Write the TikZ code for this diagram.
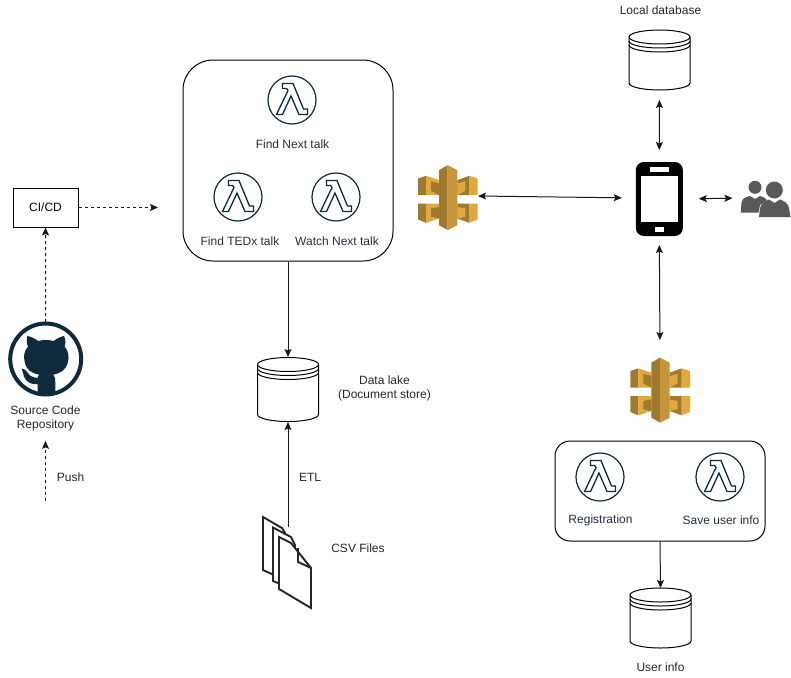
\documentclass[tikz,border=0pt]{standalone}
\usepackage{fontspec}
\setmainfont{Liberation Sans}
\usetikzlibrary{arrows.meta}
\definecolor{inkdark}{HTML}{0F2A3C}
\definecolor{lamtext}{HTML}{232F3E}
\definecolor{goldL}{HTML}{E0A83F}
\definecolor{goldM}{HTML}{C8963A}
\definecolor{goldD}{HTML}{9F7A2E}
\definecolor{usergray}{HTML}{595959}
\tikzset{
  x=1pt,y=-1pt,
  lbl/.style={font=\fontsize{12}{14}\selectfont,text=black!85,align=center,inner sep=0pt},
  lamlbl/.style={font=\fontsize{12}{14}\selectfont,text=lamtext,align=center,inner sep=0pt},
  iconbox/.style={inner sep=0pt,outer sep=0pt,minimum width=#1},
  conn/.style={line width=1pt,color=black!90},
  tip/.style={-{Stealth[length=8pt,width=7pt,inset=1.5pt]}},
  both/.style={{Stealth[length=8pt,width=7pt,inset=1.5pt]}-{Stealth[length=8pt,width=7pt,inset=1.5pt]}},
  dash3/.style={dash pattern=on 3pt off 3pt},
  pics/lambda/.style={code={
    \draw[inkdark,line width=1.2pt] (0,0) circle[radius=24];
    \draw[inkdark,line width=1.3pt,line join=miter,fill=white]
      (-9.5,-16.5)--(1,-16.5)--(11.5,9)--(15.5,9)--(15.5,14.5)--(7,14.5)--(-1,-4)--(-9.5,14.5)--(-15.5,14.5)--(-4,-9.5)--(-5.5,-11.5)--(-9.5,-11.5)--cycle;
  }},
  pics/store/.style={code={
    \draw[black,line width=1pt,fill=white] (-30.5,-#1) -- (-30.5,#1) arc[start angle=180,end angle=0,x radius=30.5,y radius=7] -- (30.5,-#1);
    \draw[black,line width=1pt,fill=white] (0,-#1) ellipse[x radius=30.5,y radius=7];
    \draw[black,line width=1pt] (-30.5,-#1+4) arc[start angle=180,end angle=0,x radius=30.5,y radius=7];
    \draw[black,line width=1pt] (-30.5,-#1+8) arc[start angle=180,end angle=0,x radius=30.5,y radius=7];
  }},
  pics/gateway/.style={code={
    \begin{scope}[x=.3333pt,y=-.3333pt,shift={(-143pt*.3333,142pt*.3333)}]
      % top left arm
      \fill[goldD] (54,85)--(78,77)--(78,135)--(54,135)--cycle;
      \fill[goldL] (78,77)--(117,90)--(117,135)--(78,135)--cycle;
      \fill[goldD] (93,93)--(117,100)--(117,135)--(93,122)--cycle;
      % top right arm
      \fill[goldL] (233,85)--(208,77)--(208,135)--(233,135)--cycle;
      \fill[goldD] (208,77)--(172,90)--(172,135)--(208,135)--cycle;
      \fill[goldL] (196,93)--(172,100)--(172,135)--(196,122)--cycle;
      % bottom left arm
      \fill[goldD] (54,160)--(78,160)--(78,218)--(54,208)--cycle;
      \fill[goldL] (78,160)--(117,160)--(117,205)--(78,218)--cycle;
      \fill[goldD] (93,175)--(117,170)--(117,205)--(93,200)--cycle;
      % bottom right arm
      \fill[goldL] (233,160)--(208,160)--(208,218)--(233,208)--cycle;
      \fill[goldD] (208,160)--(172,160)--(172,205)--(208,218)--cycle;
      \fill[goldL] (196,175)--(172,170)--(172,205)--(196,200)--cycle;
      % column
      \fill[goldD] (117,60)--(143,45)--(143,240)--(117,225)--cycle;
      \fill[goldM] (143,45)--(172,60)--(172,225)--(143,240)--cycle;
    \end{scope}
  }},
}
\begin{document}
\begin{tikzpicture}
\useasboundingbox (0,0) rectangle (791,677);

% containers
\node[draw=black,line width=1pt,rounded corners=30pt,minimum width=210pt,minimum height=201pt,inner sep=0pt] (lambdas) at (288,160.5) {};
\node[draw=black,line width=1pt,rounded corners=15pt,minimum width=210pt,minimum height=100pt,inner sep=0pt] (userbox) at (660,491) {};
\node[draw=black,line width=1pt,minimum width=65pt,minimum height=39pt,inner sep=0pt,font=\fontsize{12}{14}\selectfont] (cicd) at (45.5,207.5) {CI/CD};

% lambda icons
\pic at (292,100) {lambda};
\pic at (238,197) {lambda};
\pic at (336,197) {lambda};
\pic at (600,477) {lambda};
\pic at (720,477) {lambda};
\node[lamlbl] (lnext) at (292.5,144) {Find Next talk};
\node[lamlbl] (lted) at (240,241) {Find TEDx talk};
\node[lamlbl] (lwatch) at (337,241) {Watch Next talk};
\node[lamlbl] (lreg) at (600.5,520) {Registration};
\node[lamlbl] (lsave) at (721,520) {Save user info};

% stores
\pic at (288,389.5) {store=25};
\pic at (659.5,60) {store=23};
\pic at (660.5,618) {store=23};
\node[iconbox=61pt,minimum height=65pt] (lake) at (288,389.5) {};
\node[iconbox=61pt,minimum height=60pt] (localdb) at (659.5,60) {};
\node[iconbox=61pt,minimum height=60pt] (userdb) at (660.5,618) {};

% gateways
\pic at (447.7,197.5) {gateway};
\pic at (660,390) {gateway};
\node[iconbox=60pt,minimum height=66pt] (api) at (448,197.5) {};
\node[iconbox=60pt,minimum height=66pt] (apib) at (660,390) {};

% phone
\node[iconbox=47pt,minimum height=74pt,fill=black,rounded corners=8pt] (phone) at (659.3,199) {};
\fill[white] (641,175.7) rectangle (677.7,221.7);
\fill[white] (650,166.7) rectangle (669,171.7);
\fill[white] (655,226.7) rectangle (664,231.7);

% users
\node[iconbox=50pt,minimum height=36pt] (users) at (765.5,198.5) {};
\fill[usergray] (755,187.3) circle[radius=6.5];
\fill[usergray] (740.7,212.7) -- (741.5,203) .. controls (742,198) and (746,197) .. (750,196) -- (755,199) -- (760,196) .. controls (763,197) and (766,198) .. (767,200) -- (760,205) -- (758.5,212.7) -- cycle;
\fill[white] (774.3,190) circle[radius=10];
\fill[usergray] (774.3,190) circle[radius=8.5];
\fill[usergray] (759,217.2) -- (760,208) .. controls (761,203) and (765,201) .. (769,199.5) -- (774.5,203) -- (780,199.5) .. controls (784,201) and (788,203) .. (789,208) -- (790.5,217.2) -- cycle;

% github
\node[iconbox=75pt,minimum height=75pt] (repo) at (45.7,359.5) {};
\draw[inkdark,line width=4pt] (45.7,359) circle[radius=35.5];
\begin{scope}[shift={(0pt,-310pt)},x=.3333pt,y=-.3333pt]
  \fill[inkdark] (82,78) .. controls (95,80) and (108,88) .. (115,93)
    .. controls (130,89) and (146,89) .. (161,93)
    .. controls (170,86) and (182,80) .. (192,78)
    .. controls (197,88) and (197,100) .. (194,110)
    .. controls (205,122) and (208,140) .. (204,155)
    .. controls (198,182) and (180,190) .. (160,194)
    .. controls (165,200) and (166,208) .. (166,218)
    -- (166,250) -- (113,250) -- (113,222)
    .. controls (96,225) and (80,218) .. (72,200)
    .. controls (70,190) and (66,180) .. (65,175)
    .. controls (80,178) and (84,192) .. (92,198)
    .. controls (100,203) and (110,204) .. (114,203)
    .. controls (113,200) and (114,197) .. (118,194)
    .. controls (95,190) and (78,180) .. (74,155)
    .. controls (70,140) and (72,122) .. (84,110)
    .. controls (80,100) and (79,88) .. (82,78) -- cycle;
\end{scope}
\node[lbl] (repolabel) at (45.5,418) {Source Code\\Repository};

% csv documents
\node[iconbox=48pt,minimum height=91pt] (csv) at (288,562.5) {};
\begin{scope}[line width=1.9pt,draw=black!85,line join=miter]
  \filldraw[fill=white] (263,517)--(282,528)--(285,533)--(285,580)--(263,570)--cycle;
  \filldraw[fill=white] (273,527.5)--(291,537)--(295,545)--(295,590)--(273,581)--cycle;
  \filldraw[fill=white] (279,537)--(291,543)--(311,568)--(311,608)--(279,589)--cycle;
  \draw (298,548)--(298,562)--(311,568);
\end{scope}

% plain labels
\node[lbl] (tlocal) at (660.5,10) {Local database};
\node[lbl] (tlake) at (384.5,388) {Data lake\\(Document store)};
\node[lbl] (tpush) at (70.5,477) {Push};
\node[lbl] (tetl) at (310,477) {ETL};
\node[lbl] (tcsv) at (358,548) {CSV Files};
\node[lbl] (tuser) at (660.5,667) {User info};

% connectors
\coordinate (cicdend) at (158,207.5);
\coordinate (pushstart) at (45.5,501);
\draw[conn,tip,dash3] (cicd.east) -- (cicdend);
\draw[conn,tip,dash3] (repo.north) -- (cicd.south);
\draw[conn,tip,dash3,shorten >=10pt] (pushstart) -- (repolabel.south);
\draw[conn,tip] (lambdas.south) -- (lake.north);
\draw[conn,tip,shorten <=-10pt] (csv.north) -- (lake.south);
\draw[conn,both,shorten >=14pt] ([yshift=1.5pt]api.east) -- ([yshift=1pt]phone.west);
\draw[conn,both,shorten <=12pt,shorten >=10pt] (phone.north) -- (localdb.south);
\draw[conn,both,shorten <=16pt,shorten >=8pt] (phone.east) -- ([yshift=.5pt]users.west);
\draw[conn,both,shorten <=9pt,shorten >=17pt] (phone.south) -- (apib.north);
\draw[conn,tip] (userbox.south) -- (userdb.north);
\end{tikzpicture}
\end{document}
